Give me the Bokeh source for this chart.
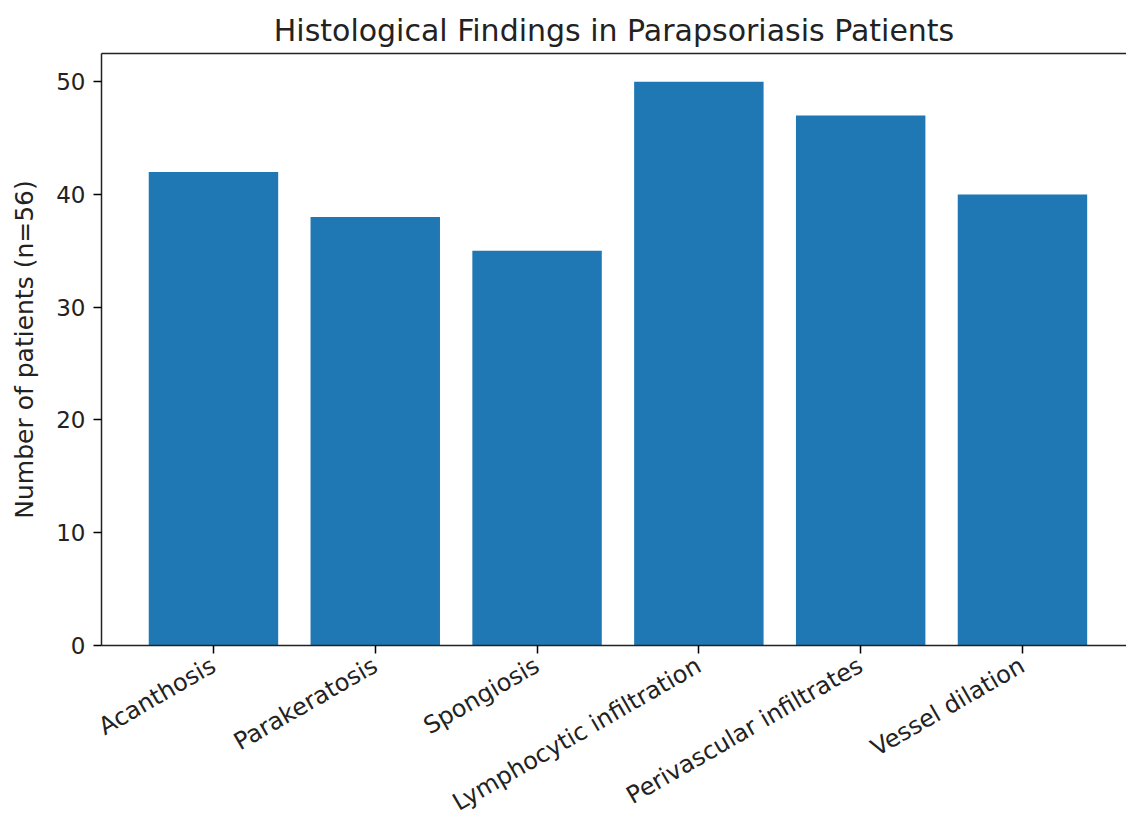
import math
from bokeh.plotting import figure
from bokeh.models import Range1d, FixedTicker, LinearAxis
from bokeh.embed import file_html
from bokeh.resources import INLINE

categories = ["Acanthosis", "Parakeratosis", "Spongiosis",
              "Lymphocytic infiltration", "Perivascular infiltrates", "Vessel dilation"]
counts = [42, 38, 35, 50, 47, 40]
y_ticks = [0, 10, 20, 30, 40, 50]

FONT = "DejaVu Sans"
TXT = "#222222"
xs = list(range(len(categories)))

p = figure(width=1126, height=831, output_backend="svg", toolbar_location=None,
           x_range=Range1d(-0.692, 5.643), y_range=Range1d(0, 52.5),
           min_border_left=101, min_border_right=0, min_border_top=53, min_border_bottom=186,
           title="Histological Findings in Parapsoriasis Patients")

p.vbar(x=xs, top=counts, width=0.8, bottom=0, fill_color="#1f77b4", line_color=None)

p.title.align = "center"
p.title.text_font = FONT
p.title.text_font_style = "normal"
p.title.text_font_size = "30px"
p.title.text_color = TXT
p.title.standoff = 12

p.outline_line_color = None
p.xgrid.visible = False
p.ygrid.visible = False
p.background_fill_color = "white"
p.border_fill_color = "white"

xa = p.xaxis[0]
xa.ticker = FixedTicker(ticks=xs)
xa.major_label_overrides = {i: c for i, c in enumerate(categories)}
xa.major_label_orientation = math.pi / 6
xa.major_label_text_font = FONT
xa.major_label_text_font_size = "24px"
xa.major_label_text_color = TXT
xa.major_tick_out = 8
xa.major_tick_in = 0
xa.minor_tick_out = 0
xa.minor_tick_in = 0
xa.axis_line_color = TXT
xa.axis_line_width = 1.5
xa.major_tick_line_width = 1.5
xa.major_label_standoff = 10

ya = p.yaxis[0]
ya.ticker = FixedTicker(ticks=y_ticks)
ya.axis_label = "Number of patients (n=56)"
ya.axis_label_text_font = FONT
ya.axis_label_text_font_style = "normal"
ya.axis_label_text_font_size = "25px"
ya.axis_label_text_color = TXT
ya.major_label_text_font = FONT
ya.major_label_text_font_size = "23px"
ya.major_label_text_color = TXT
ya.major_tick_out = 8
ya.major_tick_in = 0
ya.minor_tick_out = 0
ya.minor_tick_in = 0
ya.axis_line_color = TXT
ya.axis_line_width = 1.5
ya.major_tick_line_width = 1.5
ya.major_label_standoff = 8
ya.axis_label_standoff = 14

top = LinearAxis(ticker=FixedTicker(ticks=[]), major_label_text_font_size="0px",
                 major_tick_out=0, major_tick_in=0, minor_tick_out=0, minor_tick_in=0,
                 axis_line_color=TXT, axis_line_width=1.5)
p.add_layout(top, "above")

open("out.html", "w").write(file_html(p, INLINE))
